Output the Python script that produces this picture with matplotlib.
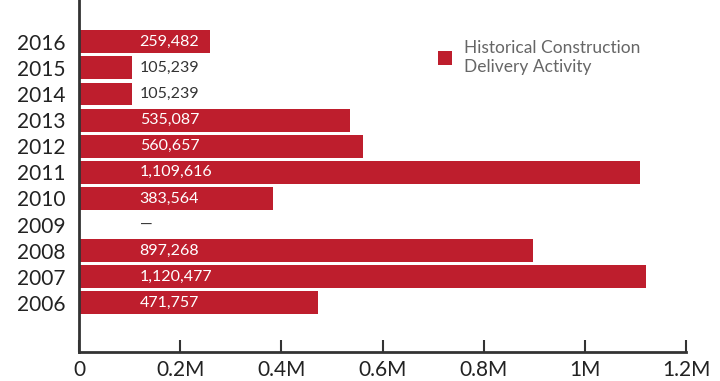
import numpy as np
import matplotlib.pyplot as plt

years = ["2006", "2007", "2008", "2009", "2010", "2011", "2012", "2013", "2014", "2015", "2016"]
deliveries = [471757, 1120477, 897268, 0, 383564, 1109616, 560657, 535087, 105239, 105239, 259482]
value_labels = ["471,757", "1,120,477", "897,268", "—", "383,564", "1,109,616",
                "560,657", "535,087", "105,239", "105,239", "259,482"]
xticks = [0, 200000, 400000, 600000, 800000, 1000000, 1200000]
xtick_labels = ["0", "0.2M", "0.4M", "0.6M", "0.8M", "1M", "1.2M"]

plt.rcParams['font.family'] = ['Lato', 'DejaVu Sans']
red = "#be1e2d"

fig = plt.figure(figsize=(7.2, 3.81), dpi=100)
ax = fig.add_axes([79 / 720, 29 / 381, 607 / 720, 352 / 381])

y = np.arange(len(years))
ax.barh(y, deliveries, height=0.88, color=red, label="Historical Construction\nDelivery Activity")

label_x = 120000
for i, (v, txt) in enumerate(zip(deliveries, value_labels)):
    col = "white" if v > 200000 else "#333333"
    ax.text(label_x, i, txt, va="center", ha="left", fontsize=11.5, color=col)

ax.set_xlim(0, 1200000)
ax.set_ylim(-1.88, 11.6)
ax.set_yticks(y)
ax.set_yticklabels(years, fontsize=15, color="#222222")
ax.set_xticks(xticks)
ax.set_xticklabels(xtick_labels, fontsize=15, color="#222222")
ax.tick_params(axis="y", length=0, pad=10)
ax.tick_params(axis="x", direction="in", length=9, width=1.5, color="#333333", pad=6)

for s in ["top", "right"]:
    ax.spines[s].set_visible(False)
ax.spines["left"].set_linewidth(2)
ax.spines["left"].set_color("#333333")
ax.spines["bottom"].set_linewidth(2)
ax.spines["bottom"].set_color("#333333")

leg = ax.legend(loc="upper left", bbox_to_anchor=(0.565, 0.93), frameon=False,
                fontsize=12.5, handlelength=0.85, handleheight=0.85, handletextpad=0.65)
for t in leg.get_texts():
    t.set_color("#666666")

fig.savefig("out.png", dpi=100)
